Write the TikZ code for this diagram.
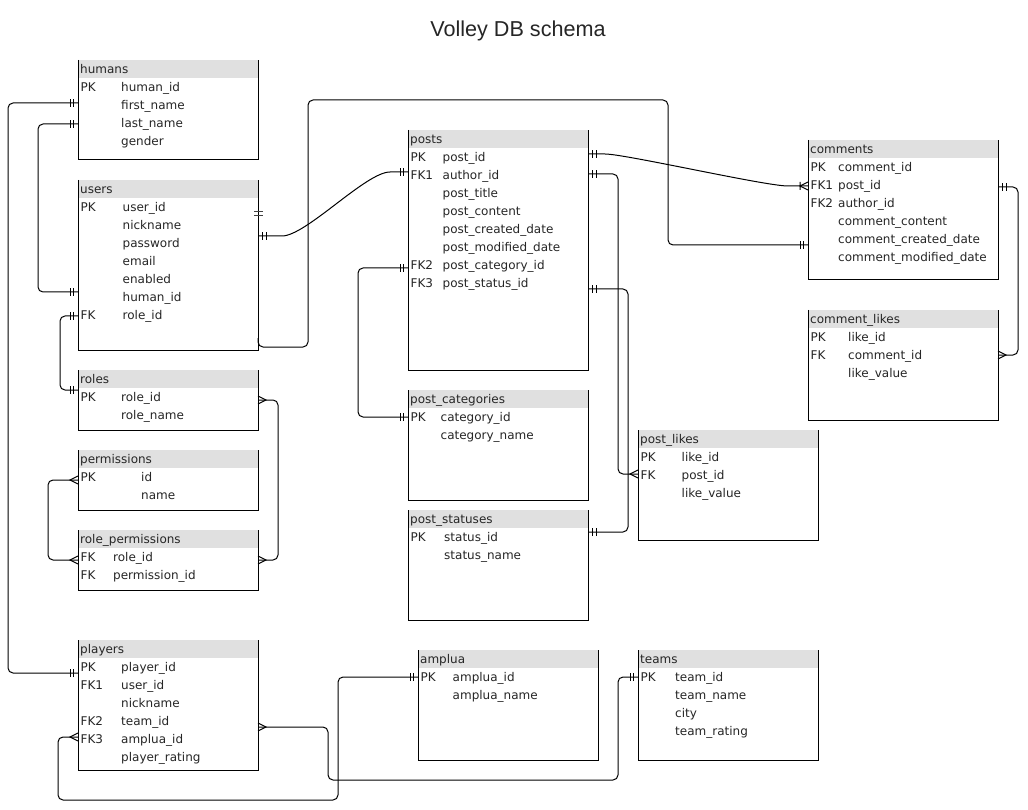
\documentclass[tikz,border=0pt]{standalone}
\usepackage{fontspec}
\setmainfont{DejaVu Sans}
\newfontfamily\titlefont{Liberation Sans}
\usetikzlibrary{calc}
\definecolor{hdrgray}{RGB}{224,224,224}
\tikzset{
  tbl/.style={inner sep=0pt, outer sep=0pt, draw=none},
  cell/.style={inner sep=0pt, anchor=west, font=\fontsize{12}{14}\selectfont, text height=8.7pt, text depth=2.5pt, text=black!85},
  tblline/.style={line width=1pt, black},
  rel/.style={line width=1pt, rounded corners=5pt},
  mone/.pic={\draw[line width=1pt] (4.5pt,-4pt) -- (4.5pt,4pt) (8pt,-4pt) -- (8pt,4pt);},
  many/.pic={\draw[line width=1pt] (0pt,-4pt) -- (8pt,0pt) -- (0pt,4pt);},
  onemany/.pic={\draw[line width=1pt] (0pt,-4pt) -- (8pt,0pt) -- (0pt,4pt) (8pt,-4pt) -- (8pt,4pt);}
}
% #1 name, #2 x, #3 top, #4 width, #5 height, #6 title, #7 name column offset, #8 rows
\newcommand\ertable[8]{%
  \node[tbl, minimum width=#4pt, minimum height=#5pt, anchor=north west] (#1) at (#2,#3) {};
  \fill[hdrgray] (#1.north west) rectangle ($(#1.north east)+(0pt,-18pt)$);
  \draw[tblline] (#1.north west) -- (#1.south west) -- (#1.south east) -- (#1.north east);
  \node[cell] (#1-title) at ($(#1.north west)+(2pt,-10pt)$) {#6};
  \foreach \k/\n [count=\i, evaluate=\i as \yy using -10-18*\i] in {#8} {
    \node[cell] (#1-k\i) at ($(#1.north west)+(2.5pt,\yy pt)$) {\k};
    \node[cell] (#1-r\i) at ($(#1.north west)+(#7pt,\yy pt)$) {\n};
  }%
}
\begin{document}
\begin{tikzpicture}[x=1pt,y=-1pt]
\fill[white] (0,0) rectangle (1028,810);
\useasboundingbox (0,0) rectangle (1028,810);
\node[font=\titlefont\fontsize{21.6}{24}\selectfont, text=black!85] (title) at (518,31) {Volley DB schema};

\ertable{humans}{78}{60}{180}{100}{humans}{43}{PK/human\_id,/first\_name,/last\_name,/gender}
\ertable{users}{78}{180}{180}{170}{users}{44.5}{PK/user\_id,/nickname,/password,/email,/enabled,/human\_id,FK/role\_id}
\ertable{roles}{78}{370}{180}{60}{roles}{43}{PK/role\_id,/role\_name}
\ertable{permissions}{78}{450}{180}{60}{permissions}{63}{PK/id,/name}
\ertable{role_permissions}{78}{530}{180}{60}{role\_permissions}{35}{FK/role\_id,FK/permission\_id}
\ertable{players}{78}{640}{180}{130}{players}{43}{PK/player\_id,FK1/user\_id,/nickname,FK2/team\_id,FK3/amplua\_id,/player\_rating}
\ertable{posts}{408}{130}{180}{240}{posts}{34.5}{PK/post\_id,FK1/author\_id,/post\_title,/post\_content,/post\_created\_date,/post\_modified\_date,FK2/post\_category\_id,FK3/post\_status\_id}
\ertable{post_categories}{408}{390}{180}{110}{post\_categories}{32.5}{PK/category\_id,/category\_name}
\ertable{post_statuses}{408}{510}{180}{110}{post\_statuses}{36}{PK/status\_id,/status\_name}
\ertable{comments}{808}{140}{190}{140}{comments}{30}{PK/comment\_id,FK1/post\_id,FK2/author\_id,/comment\_content,/comment\_created\_date,/comment\_modified\_date}
\ertable{comment_likes}{808}{310}{190}{110}{comment\_likes}{40}{PK/like\_id,FK/comment\_id,/like\_value}
\ertable{post_likes}{638}{430}{180}{110}{post\_likes}{43.5}{PK/like\_id,FK/post\_id,/like\_value}
\ertable{amplua}{418}{650}{180}{110}{amplua}{34.5}{PK/amplua\_id,/amplua\_name}
\ertable{teams}{638}{650}{180}{110}{teams}{37}{PK/team\_id,/team\_name,/city,/team\_rating}

% connectors
\draw[rel] (humans.west |- 0,103) -- (8,103) -- (8,673) -- (players.west |- 0,673);
\pic[xscale=-1] at (humans.west |- 0,103) {mone};
\pic[xscale=-1] at (players.west |- 0,673) {mone};

\draw[rel] (humans.west |- 0,124) -- (38,124) -- (38,292) -- (users.west |- 0,292);
\pic[xscale=-1] at (humans.west |- 0,124) {mone};
\pic[xscale=-1] at (users.west |- 0,292) {mone};

\draw[rel] (users.west |- 0,316) -- (60,316) -- (60,390) -- (roles.west |- 0,390);
\pic[xscale=-1] at (users.west |- 0,316) {mone};
\pic[xscale=-1] at (roles.west |- 0,390) {mone};

\draw[line width=1pt] (users.east |- 0,236) -- (282,236) .. controls (306,236) and (366,172) .. (390,172) -- (posts.west |- 0,172);
\pic at (users.east |- 0,236) {mone};
\pic[xscale=-1] at (posts.west |- 0,172) {mone};
\draw[line width=1pt, black!75] ($(users.east |- 0,212)+(-4pt,0pt)$) -- ($(users.east |- 0,212)+(5pt,0pt)$)
  ($(users.east |- 0,215.5)+(-4pt,0pt)$) -- ($(users.east |- 0,215.5)+(5pt,0pt)$);

\draw[rel] (users.east |- 0,338) -- (258,347) -- (308,347) -- (308,100) -- (668,100) -- (668,245) -- (comments.west |- 0,245);
\pic[xscale=-1] at (comments.west |- 0,245) {mone};

\draw[line width=1pt] (posts.east |- 0,154) -- (605,154) .. controls (625,154) and (765,186) .. (788,186) -- (comments.west |- 0,186);
\pic at (posts.east |- 0,154) {mone};
\pic[xscale=-1] at (comments.west |- 0,186) {onemany};

\draw[rel] (posts.east |- 0,174) -- (618,174) -- (618,474) -- (post_likes.west |- 0,474);
\pic at (posts.east |- 0,174) {mone};
\pic[xscale=-1] at (post_likes.west |- 0,474) {many};

\draw[rel] (posts.east |- 0,289) -- (628,289) -- (628,532) -- (post_statuses.east |- 0,532);
\pic at (posts.east |- 0,289) {mone};
\pic at (post_statuses.east |- 0,532) {mone};

\draw[rel] (posts.west |- 0,268) -- (358,268) -- (358,417) -- (post_categories.west |- 0,417);
\pic[xscale=-1] at (posts.west |- 0,268) {mone};
\pic[xscale=-1] at (post_categories.west |- 0,417) {mone};

\draw[rel] (comments.east |- 0,187) -- (1018,187) -- (1018,355) -- (comment_likes.east |- 0,355);
\pic at (comments.east |- 0,187) {mone};
\pic at (comment_likes.east |- 0,355) {many};

\draw[rel] (roles.east |- 0,400) -- (278,400) -- (278,560) -- (role_permissions.east |- 0,560);
\pic at (roles.east |- 0,400) {many};
\pic at (role_permissions.east |- 0,560) {many};

\draw[rel] (permissions.west |- 0,480) -- (48,480) -- (48,560) -- (role_permissions.west |- 0,560);
\pic[xscale=-1] at (permissions.west |- 0,480) {many};
\pic[xscale=-1] at (role_permissions.west |- 0,560) {many};

\draw[rel] (players.east |- 0,727) -- (328,727) -- (328,780) -- (618,780) -- (618,677) -- (teams.west |- 0,677);
\pic at (players.east |- 0,727) {many};
\pic[xscale=-1] at (teams.west |- 0,677) {mone};

\draw[rel] (players.west |- 0,737) -- (58,737) -- (58,800) -- (338,800) -- (338,677) -- (amplua.west |- 0,677);
\pic[xscale=-1] at (players.west |- 0,737) {many};
\pic[xscale=-1] at (amplua.west |- 0,677) {mone};
\end{tikzpicture}
\end{document}
